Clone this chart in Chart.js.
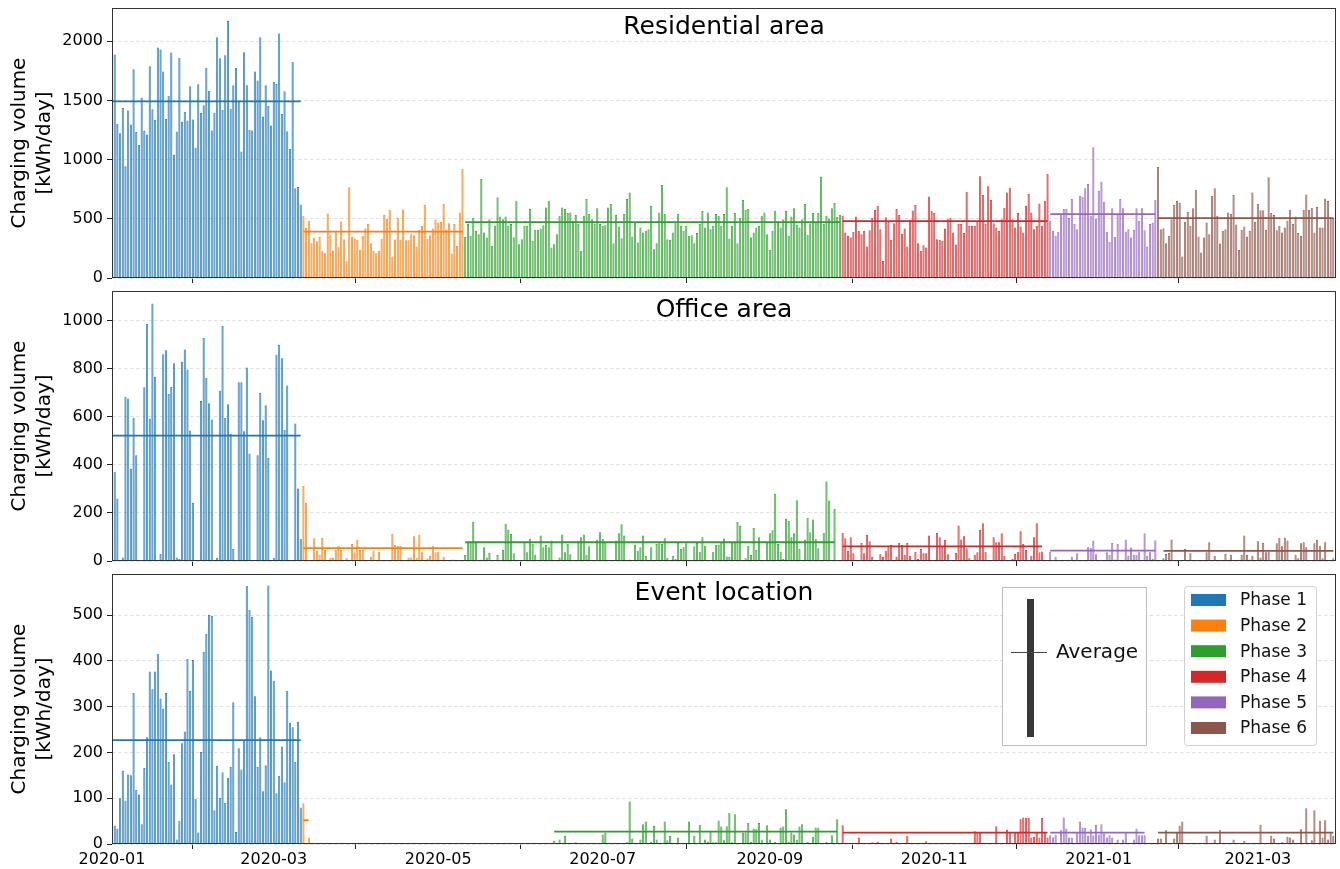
<!DOCTYPE html>
<html>
<head>
<meta charset="utf-8">
<title>Daily charging volume by phase</title>
<script src="https://cdn.jsdelivr.net/npm/chart.js@4.4.0/dist/chart.umd.min.js"></script>
<style>
  html, body { margin: 0; padding: 0; background: #fff; }
  #wrap { position: relative; width: 1340px; height: 869px; }
  .panel { position: absolute; left: 0; width: 1340px; }
</style>
</head>
<body>
<div id="wrap">
  <div class="panel" style="top:0;height:288px"><canvas id="residential"></canvas></div>
  <div class="panel" style="top:288px;height:282px"><canvas id="office"></canvas></div>
  <div class="panel" style="top:570px;height:299px"><canvas id="event"></canvas></div>
</div>
<script>
// ---------- data ----------
const phaseNames = ['Phase 1', 'Phase 2', 'Phase 3', 'Phase 4', 'Phase 5', 'Phase 6'];
const axisStart = '2020-01-01';
const axisEnd = '2021-03-30';
const tickDates = ['2020-01-01', '2020-03-01', '2020-05-01', '2020-07-01', '2020-09-01', '2020-11-01', '2021-01-01', '2021-03-01'];

// Residential area: first day of each phase, daily kWh from that day on
const residentialStarts = ['2020-01-01', '2020-03-12', '2020-05-11', '2020-09-28', '2020-12-14', '2021-01-23'];
const residentialP1 = [1627,1887,1302,1223,1435,943,1415,1297,1763,1232,1124,1525,1246,1212,1788,1424,1336,1946,1929,1743,
  1342,1540,1904,1040,1237,1859,1319,1404,1331,1619,1339,1099,1636,1395,1458,1774,1582,1246,1395,2034,
  1856,1418,1881,2172,1429,1627,1774,1489,1068,1907,1627,1251,1246,1743,1667,2034,1364,1627,1452,1288,
  1655,1638,2065,1384,1576,1240,1090,1825,757,768,621];
const residentialP2 = [525,424,483,294,339,311,347,226,209,545,364,232,390,260,477,328,141,766,347,336,
  322,237,356,421,455,294,229,209,229,333,534,500,576,181,325,508,325,579,319,319,
  370,362,266,407,441,616,333,362,418,497,469,475,624,407,463,206,455,271,554,921];
const residentialP3 = [347,455,356,508,398,370,836,384,342,497,271,441,681,520,497,520,441,455,345,653,
  285,328,441,441,582,314,407,407,418,446,596,653,257,285,370,525,596,582,548,554,
  483,531,455,229,525,667,540,497,455,588,455,441,446,596,624,294,534,435,336,
  540,667,723,350,469,299,427,384,398,412,610,243,294,554,785,540,328,322,384,469,
  540,441,398,441,356,362,294,379,455,565,427,554,412,441,540,525,441,540,766,
  333,441,548,294,508,658,576,582,342,384,427,441,525,554,370,237,398,568,469,427,
  497,568,356,520,590,449,427,497,624,364,463,548,469,548,856,455,525,503,588,633,517,534];
const residentialP4 = [525,384,356,342,390,520,398,370,398,266,404,508,576,610,412,144,514,475,322,463,
  582,531,373,418,266,492,571,616,294,229,277,257,689,568,548,328,322,314,418,497,
  508,384,282,455,455,379,729,441,441,441,475,859,701,455,774,661,463,427,398,497,
  593,723,763,497,427,548,435,384,610,709,554,412,441,630,441,653,879];
const residentialP5 = [483,398,356,390,540,582,582,506,667,455,412,695,686,757,794,525,1105,503,737,814,
  644,390,305,590,347,540,667,590,393,412,342,407,588,483,588,404,266,455,469,661];
const residentialP6 = [938,412,421,294,356,497,616,650,638,181,475,559,441,590,746,350,215,342,469,370,
  695,757,525,291,398,412,554,540,701,452,237,407,435,350,398,723,475,627,573,573,
  407,850,548,531,404,441,384,427,483,576,455,520,379,356,576,706,576,593,384,599,
  427,427,672,650,508,508];
const residentialAverages = [1492, 392, 472, 480, 540, 506];
const residentialTicks = [0, 500, 1000, 1500, 2000];
const residentialMax = 2280;

// Office area
const officeStarts = ['2020-01-01', '2020-03-12', '2020-05-11', '2020-09-28', '2020-12-14', '2021-01-25'];
const officeP1 = [0,372,260,0,15,684,677,384,596,440,0,4,723,987,593,1072,767,0,29,861,
  877,695,724,823,15,8,829,880,797,543,242,0,0,666,928,763,657,589,0,14,
  709,978,595,653,529,50,0,744,744,540,806,448,0,0,440,699,586,648,429,0,
  14,859,900,844,546,731,0,0,572,302,92];
const officeP2 = [312,242,0,0,95,43,26,97,46,0,14,14,47,64,47,0,14,0,71,36,
  88,46,46,0,0,18,43,0,39,0,0,0,0,113,67,64,64,0,0,15,
  15,103,14,109,36,0,11,22,64,36,39,0,18,0,0,6,6,0,0,0];
const officeP3 = [25,78,81,162,81,0,6,57,15,33,0,4,25,0,47,155,131,113,32,0,
  0,0,78,36,92,71,26,0,106,57,67,57,85,0,0,15,110,36,71,28,
  0,0,82,99,110,26,61,0,0,89,120,92,78,0,0,0,85,116,153,106,
  0,6,3,68,43,57,106,22,0,57,0,71,74,71,95,14,0,22,8,75,
  50,57,74,0,0,61,75,39,99,64,0,0,39,67,68,78,94,19,18,78,
  78,162,148,0,11,64,25,137,46,99,0,0,78,116,128,280,71,39,8,176,
  166,99,116,253,50,0,89,180,120,173,92,53,0,117,331,252,0,217];
const officeP4 = [117,95,43,99,32,0,0,75,32,109,82,18,0,0,28,18,43,57,68,0,
  18,75,67,26,75,22,0,39,8,50,32,32,106,0,0,117,99,64,88,28,
  0,0,33,148,89,103,53,11,0,26,36,130,157,39,0,0,99,78,78,116,
  22,0,0,8,29,39,124,71,46,0,22,99,157,36,40];
const officeP5 = [40,0,18,0,0,0,0,0,18,5,32,0,0,0,57,54,85,28,0,0,
  0,36,25,75,6,71,0,0,89,22,56,26,26,36,0,116,22,36,8,86];
const officeP6 = [11,29,33,89,0,0,4,0,50,0,32,0,2,0,0,2,36,78,0,22,
  0,4,0,29,0,26,0,0,0,26,106,26,6,22,0,82,15,75,36,39,
  0,0,74,97,61,97,85,0,0,26,11,74,78,57,0,0,74,88,64,11,
  78,0,0,11];
const officeAverages = [522, 54, 78, 61, 43, 42];
const officeTicks = [0, 200, 400, 600, 800, 1000];
const officeMax = 1124;

// Event location
const eventStarts = ['2020-01-01', '2020-03-12', '2020-06-13', '2020-09-28', '2020-12-14', '2021-01-23'];
const eventP1 = [23,40,34,100,160,95,152,150,330,118,108,43,166,233,377,338,377,416,318,296,
  330,179,130,196,10,51,220,246,405,335,402,99,25,201,420,459,501,498,74,171,
  101,157,90,145,168,310,26,209,163,227,564,512,496,323,168,233,115,172,565,379,
  357,111,149,213,135,335,265,255,179,267,80];
const eventP2 = [89, null, 14];
const eventP3 = [7,0,10,0,18,0,0,0,4,0,0,0,0,0,0,0,0,0,20,25,
  0,0,0,0,2,0,0,4,93,12,0,0,10,43,49,0,5,40,10,0,
  0,49,8,18,0,0,14,0,0,0,49,0,18,0,42,0,10,5,29,4,
  4,51,38,8,39,68,4,65,0,0,25,25,46,5,34,32,46,10,0,41,
  10,0,5,0,36,38,76,5,25,21,10,38,43,0,5,0,16,36,36,0,
  0,5,0,19,0,54];
const eventP4 = [41,0,0,0,0,0,14,0,0,0,0,4,0,5,0,0,0,0,12,0,
  5,0,0,0,18,0,0,0,0,0,0,6,0,0,0,0,0,0,0,0,
  0,0,0,0,0,0,0,0,0,28,25,25,0,0,0,0,0,39,0,0,
  0,31,25,0,25,25,54,58,57,57,14,16,25,14,57,25,14];
const eventP5 = [19,15,21,0,30,58,34,14,14,0,26,49,36,35,18,32,19,42,21,43,
  23,14,19,14,0,10,0,10,25,0,0,10,34,19,19,19];
const eventP6 = [12,12,0,30,0,0,12,25,40,49,0,0,0,0,0,0,0,0,18,0,
  0,10,0,30,3,0,0,0,10,0,0,0,7,0,0,0,0,0,42,0,
  0,0,18,12,0,0,4,0,16,14,10,0,0,32,0,78,0,8,74,0,
  51,14,52,10,25,18];
const eventAverages = [227, 52, 27, 25, 25, 25];
const eventTicks = [0, 100, 200, 300, 400, 500];
const eventMax = 590;

// ---------- styling ----------
const phaseColors = ['#1f77b4', '#ff7f0e', '#2ca02c', '#d62728', '#9467bd', '#8c564b'];
const FONT = "'DejaVu Sans', 'Liberation Sans', sans-serif";
Chart.defaults.font.family = FONT;
Chart.defaults.color = '#000';

const DAY0 = Date.UTC(2020, 0, 1);
function dayIndex(s) {
  const [y, m, d] = s.split('-').map(Number);
  return Math.round((Date.UTC(y, m - 1, d) - DAY0) / 86400000);
}
function monthLabel(v) {
  const dt = new Date(DAY0 + v * 86400000);
  return dt.getUTCFullYear() + '-' + String(dt.getUTCMonth() + 1).padStart(2, '0');
}
function withAlpha(hex, a) {
  const n = parseInt(hex.slice(1), 16);
  return `rgba(${(n >> 16) & 255},${(n >> 8) & 255},${n & 255},${a})`;
}

// one bar dataset per phase, plus a horizontal line at the phase average
function buildDatasets(starts, phases, averages) {
  const sets = [];
  phases.forEach((vals, i) => {
    const s = dayIndex(starts[i]);
    const pts = [];
    vals.forEach((v, k) => { if (v !== null) pts.push({ x: s + k, y: v }); });
    sets.push({
      type: 'bar', label: phaseNames[i], data: pts,
      backgroundColor: withAlpha(phaseColors[i], 0.72),
      borderColor: phaseColors[i], borderWidth: 0.7, borderSkipped: 'start',
      grouped: false, barPercentage: 0.8, categoryPercentage: 1,
      clip: 0, order: 2
    });
    sets.push({
      type: 'line', label: phaseNames[i] + ' average',
      data: [{ x: s, y: averages[i] }, { x: s + vals.length - 1, y: averages[i] }],
      borderColor: phaseColors[i], borderWidth: 1.8, pointRadius: 0,
      fill: false, clip: 0, order: 1
    });
  });
  return sets;
}

const framePlugin = {
  id: 'frame',
  afterDraw(chart) {
    const { ctx, chartArea: a } = chart;
    ctx.save();
    ctx.strokeStyle = '#333';
    ctx.lineWidth = 1;
    ctx.strokeRect(Math.round(a.left) + 0.5, Math.round(a.top) + 0.5,
      Math.round(a.right - a.left) - 1, Math.round(a.bottom - a.top) - 1);
    ctx.restore();
  }
};

const panelTitlePlugin = {
  id: 'panelTitle',
  afterDatasetsDraw(chart, args, opts) {
    const { ctx, chartArea: a } = chart;
    ctx.save();
    ctx.font = `25px ${FONT}`;
    ctx.fillStyle = '#000';
    ctx.textAlign = 'center';
    ctx.textBaseline = 'middle';
    ctx.fillText(opts.text, (a.left + a.right) / 2, a.top + 19);
    ctx.restore();
  }
};

const legendPlugin = {
  id: 'phaseLegend',
  afterDraw(chart) {
    const { ctx, chartArea: a } = chart;
    ctx.save();
    // key for the average line
    const ax = a.right - 334, ay = a.top + 13, aw = 144, ah = 158;
    ctx.fillStyle = 'rgba(255,255,255,0.9)';
    ctx.fillRect(ax, ay, aw, ah);
    ctx.strokeStyle = '#bdbdbd';
    ctx.lineWidth = 1;
    ctx.strokeRect(ax + 0.5, ay + 0.5, aw, ah);
    ctx.fillStyle = '#383838';
    ctx.fillRect(ax + 25, ay + 12, 7, 138);
    ctx.strokeStyle = '#444';
    ctx.beginPath();
    ctx.moveTo(ax + 9, ay + 65.5);
    ctx.lineTo(ax + 45, ay + 65.5);
    ctx.stroke();
    ctx.fillStyle = '#111';
    ctx.font = `20px ${FONT}`;
    ctx.textAlign = 'left';
    ctx.textBaseline = 'middle';
    ctx.fillText('Average', ax + 54, ay + 66);

    // key for the phases
    const lx = a.right - 152, ly = a.top + 12, lw = 132, lh = 159;
    ctx.fillStyle = 'rgba(255,255,255,0.9)';
    ctx.strokeStyle = '#d0d0d0';
    ctx.beginPath();
    ctx.roundRect(lx + 0.5, ly + 0.5, lw, lh, 3);
    ctx.fill();
    ctx.stroke();
    ctx.font = `17px ${FONT}`;
    phaseNames.forEach((name, i) => {
      const cy = ly + 14 + i * 25.6;
      ctx.fillStyle = phaseColors[i];
      ctx.fillRect(lx + 7, cy - 6, 35, 12);
      ctx.fillStyle = '#111';
      ctx.fillText(name, lx + 56, cy + 1);
    });
    ctx.restore();
  }
};

function makePanel(id, cfg) {
  const plugins = [framePlugin, panelTitlePlugin];
  if (cfg.legend) plugins.push(legendPlugin);
  return new Chart(document.getElementById(id), {
    type: 'bar',
    data: { datasets: buildDatasets(cfg.starts, cfg.phases, cfg.averages) },
    options: {
      responsive: true,
      maintainAspectRatio: false,
      animation: false,
      events: [],
      layout: { padding: { top: cfg.padTop, right: 4, left: 0, bottom: 0 } },
      plugins: {
        legend: { display: false },
        tooltip: { enabled: false },
        panelTitle: { text: cfg.title }
      },
      scales: {
        x: {
          type: 'linear',
          min: dayIndex(axisStart),
          max: dayIndex(axisEnd),
          offset: false,
          afterBuildTicks: s => { s.ticks = tickDates.map(t => ({ value: dayIndex(t) })); },
          afterFit: s => { s.height = cfg.xHeight; s.paddingLeft = 0; s.paddingRight = 0; },
          grid: { drawOnChartArea: false, drawTicks: true, tickLength: 5, tickColor: '#222', tickWidth: 1 },
          border: { display: false },
          ticks: {
            display: cfg.showDates, autoSkip: false, maxRotation: 0, padding: 1,
            font: { size: 16 }, color: '#000',
            callback: v => monthLabel(v)
          }
        },
        y: {
          min: 0,
          max: cfg.yMax,
          afterBuildTicks: s => { s.ticks = cfg.yTicks.map(v => ({ value: v })); },
          afterFit: s => { s.width = 112; s.paddingTop = 0; s.paddingBottom = 0; },
          grid: { color: '#d9d9d9', lineWidth: 0.8, drawTicks: true, tickLength: 5, tickColor: '#222', tickWidth: 1 },
          border: { display: false, dash: [3.5, 2.5] },
          ticks: { font: { size: 16 }, color: '#000', padding: 4, callback: v => String(v) },
          title: {
            display: true,
            text: ['Charging volume', '[kWh/day]'],
            font: { size: 20, lineHeight: 1.25 },
            color: '#000',
            padding: { top: 7.5, bottom: 0 }
          }
        }
      }
    },
    plugins
  });
}

makePanel('residential', {
  title: 'Residential area', starts: residentialStarts,
  phases: [residentialP1, residentialP2, residentialP3, residentialP4, residentialP5, residentialP6],
  averages: residentialAverages, yTicks: residentialTicks, yMax: residentialMax,
  padTop: 8, xHeight: 10, showDates: false
});
makePanel('office', {
  title: 'Office area', starts: officeStarts,
  phases: [officeP1, officeP2, officeP3, officeP4, officeP5, officeP6],
  averages: officeAverages, yTicks: officeTicks, yMax: officeMax,
  padTop: 3, xHeight: 9, showDates: false
});
makePanel('event', {
  title: 'Event location', starts: eventStarts,
  phases: [eventP1, eventP2, eventP3, eventP4, eventP5, eventP6],
  averages: eventAverages, yTicks: eventTicks, yMax: eventMax,
  padTop: 4, xHeight: 25, showDates: true, legend: true
});
</script>
</body>
</html>
